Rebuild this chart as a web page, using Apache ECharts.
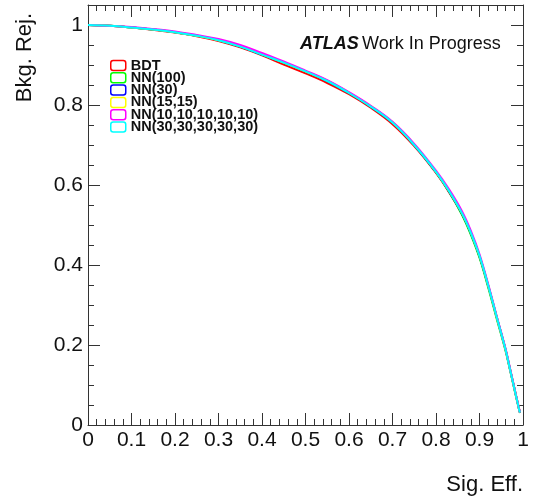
<!DOCTYPE html>
<html>
<head>
<meta charset="utf-8">
<script src="https://cdn.jsdelivr.net/npm/echarts@6/dist/echarts.min.js"></script>
<style>
  html, body { margin: 0; padding: 0; background: #fff; }
  #main { width: 536px; height: 496px; }
</style>
</head>
<body>
<div id="main"></div>
<script>
// signal efficiency points (x)
const sigEff = [0, 0.05, 0.1, 0.15, 0.2, 0.25, 0.3, 0.35, 0.4, 0.45, 0.5, 0.55, 0.6, 0.65,
  0.7, 0.75, 0.8, 0.83, 0.86, 0.88, 0.9, 0.92, 0.94, 0.96, 0.97, 0.98, 0.99, 0.993]

// background rejection for each classifier (y)
const rejBDT    = [1, 0.998, 0.994, 0.988, 0.981, 0.972, 0.960, 0.944, 0.924, 0.901, 0.879, 0.855, 0.827, 0.793,
  0.752, 0.697, 0.630, 0.582, 0.527, 0.480, 0.422, 0.348, 0.268, 0.188, 0.141, 0.093, 0.045, 0.031]
const rejNN100  = [1, 0.998, 0.994, 0.989, 0.982, 0.973, 0.962, 0.946, 0.926, 0.906, 0.884, 0.860, 0.830, 0.796,
  0.756, 0.700, 0.632, 0.583, 0.525, 0.476, 0.418, 0.344, 0.264, 0.185, 0.138, 0.090, 0.043, 0.030]
const rejNN30   = [1, 0.998, 0.994, 0.989, 0.982, 0.973, 0.962, 0.946, 0.926, 0.906, 0.884, 0.860, 0.830, 0.796,
  0.756, 0.700, 0.632, 0.584, 0.528, 0.480, 0.422, 0.348, 0.268, 0.188, 0.140, 0.092, 0.044, 0.031]
const rejNN1515 = [1, 0.998, 0.994, 0.989, 0.982, 0.973, 0.962, 0.947, 0.927, 0.906, 0.884, 0.861, 0.831, 0.797,
  0.757, 0.701, 0.633, 0.585, 0.529, 0.481, 0.423, 0.349, 0.268, 0.188, 0.140, 0.092, 0.044, 0.031]
const rejNN10x5 = [1, 0.998, 0.995, 0.990, 0.984, 0.975, 0.965, 0.950, 0.930, 0.909, 0.886, 0.862, 0.832, 0.798,
  0.758, 0.703, 0.636, 0.589, 0.534, 0.486, 0.427, 0.352, 0.270, 0.190, 0.142, 0.093, 0.045, 0.031]
const rejNN30x5 = [1, 0.998, 0.994, 0.989, 0.982, 0.973, 0.962, 0.946, 0.926, 0.906, 0.884, 0.860, 0.830, 0.796,
  0.756, 0.700, 0.633, 0.585, 0.529, 0.481, 0.423, 0.349, 0.268, 0.188, 0.140, 0.092, 0.044, 0.031]

const names  = ['BDT', 'NN(100)', 'NN(30)', 'NN(15,15)', 'NN(10,10,10,10,10)', 'NN(30,30,30,30,30)']
const colors = ['#ff0000', '#00ff00', '#0000ff', '#ffff00', '#ff00ff', '#00ffff']
const rejs   = [rejBDT, rejNN100, rejNN30, rejNN1515, rejNN10x5, rejNN30x5]

const chart = echarts.init(document.getElementById('main'))

const font = 'Liberation Sans, Arial, Helvetica, sans-serif'
const axisCol = '#333'

// every side of the frame gets an axis line with inward ticks, ROOT style
function frameAxis(extra, minorSplit) {
  return Object.assign({
    type: 'value',
    axisLine: { show: true, onZero: false, lineStyle: { color: axisCol, width: 1 } },
    axisTick: { show: true, inside: true, length: 12, lineStyle: { color: axisCol } },
    minorTick: { show: true, splitNumber: minorSplit, length: 6, lineStyle: { color: axisCol } },
    splitLine: { show: false },
    minorSplitLine: { show: false }
  }, extra)
}

chart.setOption({
  animation: false,
  backgroundColor: '#fff',
  color: colors,
  grid: { left: 88, right: 13, top: 5, bottom: 71 },
  xAxis: [
    frameAxis({
      min: 0, max: 1, interval: 0.1,
      axisLabel: { color: '#111', fontSize: 21, fontFamily: font, margin: 5 },
      name: 'Sig. Eff.',
      nameLocation: 'end',
      nameGap: 0,
      nameTextStyle: { color: '#111', fontSize: 22, fontFamily: font, align: 'right', verticalAlign: 'top', padding: [49, 0, 0, 0] }
    }, 5),
    frameAxis({
      position: 'top', min: 0, max: 1, interval: 0.1,
      axisLabel: { show: false }
    }, 5)
  ],
  yAxis: [
    frameAxis({
      min: 0, max: 1.05, interval: 0.2,
      axisLabel: { color: '#111', fontSize: 21, fontFamily: font, margin: 5, showMaxLabel: false },
      name: 'Bkg. Rej.',
      nameLocation: 'end',
      nameGap: -8,
      nameRotate: 90,
      nameTextStyle: { color: '#111', fontSize: 22, fontFamily: font, align: 'right', verticalAlign: 'bottom', padding: [0, 0, 52, 0] }
    }, 4),
    frameAxis({
      position: 'right', min: 0, max: 1.05, interval: 0.2,
      axisLabel: { show: false }
    }, 4)
  ],
  legend: {
    orient: 'vertical',
    left: 110, top: 58,
    padding: 0,
    icon: 'roundRect',
    itemWidth: 15, itemHeight: 10, itemGap: -2.7,
    textStyle: { color: '#111', fontSize: 14.5, fontWeight: 'bold', fontFamily: font, padding: 0 },
    data: names.map((n, i) => ({
      name: n,
      itemStyle: { color: '#fff', borderColor: colors[i], borderWidth: 1.5 }
    }))
  },
  graphic: [{
    type: 'text',
    left: 300, top: 35,
    style: {
      text: '{b|ATLAS} {n|Work In Progress}',
      rich: {
        b: { fontSize: 18, fontWeight: 'bold', fontStyle: 'italic', fontFamily: font, fill: '#111' },
        n: { fontSize: 18, fontFamily: font, fill: '#111' }
      }
    }
  }],
  series: names.map((n, i) => ({
    name: n,
    type: 'line',
    smooth: 0.4,
    showSymbol: false,
    symbol: 'none',
    lineStyle: { width: 2, color: colors[i] },
    data: sigEff.map((x, j) => [x, rejs[i][j]])
  }))
})
</script>
</body>
</html>
